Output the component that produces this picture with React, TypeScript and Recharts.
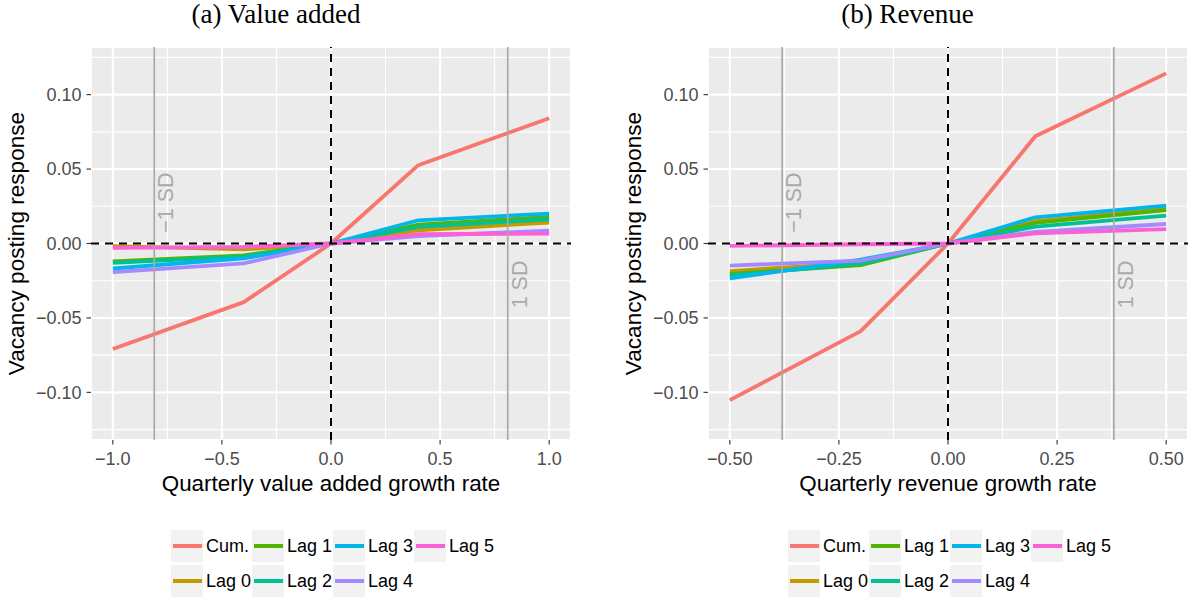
import React from 'react';
import { LineChart, Line, XAxis, YAxis, CartesianGrid, ReferenceLine, ReferenceDot, Legend } from 'recharts';

const seriesNames = ['Cum.', 'Lag 0', 'Lag 1', 'Lag 2', 'Lag 3', 'Lag 4', 'Lag 5'];
const seriesColors = ['#F8766D', '#C49A00', '#53B400', '#00C094', '#00B6EB', '#A58AFF', '#FB61D7'];

// Shared y axis
const yDomain = [-0.132, 0.132];
const yTicks = [-0.1, -0.05, 0, 0.05, 0.1];
const yMinor = [-0.125, -0.075, -0.025, 0.025, 0.075, 0.125];
const sdLabelY = [0.0275, -0.0275];

// Panel (a) Value added
const vaX = [-1, -0.4, 0, 0.4, 1];
const vaCum = [-0.0709, -0.0394, 0, 0.0526, 0.0841];
const vaLag0 = [-0.0018, -0.004, 0, 0.0089, 0.0141];
const vaLag1 = [-0.012, -0.008, 0, 0.0127, 0.0179];
const vaLag2 = [-0.013, -0.0088, 0, 0.0111, 0.0163];
const vaLag3 = [-0.0168, -0.010, 0, 0.0156, 0.0201];
const vaLag4 = [-0.0192, -0.0134, 0, 0.0049, 0.0087];
const vaLag5 = [-0.003, -0.0023, 0, 0.0062, 0.0067];
const vaXTicks = [-1, -0.5, 0, 0.5, 1];
const vaXMinor = [-0.75, -0.25, 0.25, 0.75];
const vaXDomain = [-1.1, 1.1];
const vaSD = 0.81;

// Panel (b) Revenue
const rvX = [-0.5, -0.2, 0, 0.2, 0.5];
const rvCum = [-0.1052, -0.0589, 0, 0.072, 0.1143];
const rvLag0 = [-0.0185, -0.013, 0, 0.015, 0.0235];
const rvLag1 = [-0.0205, -0.0145, 0, 0.0138, 0.0225];
const rvLag2 = [-0.0215, -0.0135, 0, 0.0113, 0.0187];
const rvLag3 = [-0.0235, -0.0108, 0, 0.0176, 0.0255];
const rvLag4 = [-0.0148, -0.0115, 0, 0.0078, 0.0131];
const rvLag5 = [-0.0016, -0.0005, 0, 0.0068, 0.0097];
const rvXTicks = [-0.5, -0.25, 0, 0.25, 0.5];
const rvXMinor = [-0.375, -0.125, 0.125, 0.375];
const rvXDomain = [-0.55, 0.55];
const rvSD = 0.38;

const fmt = (d: number) => (v: number) => (v < -1e-9 ? '\u2212' : '') + Math.abs(v).toFixed(d);

const renderLegend = () => {
  const rows = 2;
  return (
    <div style={{ display: 'grid', gridTemplateColumns: 'repeat(4, 81px)', gridTemplateRows: 'repeat(2, 32px)', rowGap: 3, gridAutoFlow: 'column' }}>
      {seriesNames.map((n, k) => (
        <div key={n} style={{ display: 'flex', alignItems: 'center', gridRow: (k % rows) + 1, gridColumn: Math.floor(k / rows) + 1 }}>
          <div style={{ width: 32, height: 32, background: '#F2F2F2', display: 'flex', alignItems: 'center', justifyContent: 'center', flex: '0 0 32px' }}>
            <div style={{ width: 29, height: 4, background: seriesColors[k] }} />
          </div>
          <span style={{ marginLeft: 3, fontSize: 18, color: '#000', whiteSpace: 'nowrap', lineHeight: '32px' }}>{n}</span>
        </div>
      ))}
    </div>
  );
};

type PanelProps = {
  xs: number[];
  series: number[][];
  xDomain: number[];
  xTicks: number[];
  xMinor: number[];
  digits: number;
  sd: number;
  xTitle: string;
  left: number;
  width: number;
  marginRight: number;
};

const sdLabel = (text: string) => (props: any) => {
  const vb = props.viewBox || {};
  const cx = (vb.x ?? 0) + (vb.width ?? 0) / 2;
  const cy = (vb.y ?? 0) + (vb.height ?? 0) / 2;
  const bx = cx + 19;
  return (
    <text x={bx} y={cy} transform={`rotate(-90 ${bx} ${cy})`} textAnchor="middle" fontSize={21.5} fill="#A9A9A9">
      {text}
    </text>
  );
};

const Panel = ({ xs, series, xDomain, xTicks, xMinor, digits, sd, xTitle, left, width, marginRight }: PanelProps) => {
  const data = xs.map((x, i) => {
    const row: any = { x };
    seriesNames.forEach((n, k) => { row[n] = series[k][i]; });
    return row;
  });
  return (
    <div style={{ position: 'absolute', left, top: 0 }}>
      <LineChart width={width} height={599} data={data} margin={{ top: 47, right: marginRight, bottom: 99, left: 0 }}>
        <CartesianGrid fill="#EBEBEB" fillOpacity={1} stroke="#FFFFFF" strokeWidth={2.1} />
        {xMinor.map((v) => <ReferenceLine key={'mx' + v} x={v} stroke="#FFFFFF" strokeWidth={1.1} />)}
        {yMinor.map((v) => <ReferenceLine key={'my' + v} y={v} stroke="#FFFFFF" strokeWidth={1.1} />)}
        <XAxis
          type="number"
          dataKey="x"
          domain={xDomain}
          ticks={xTicks}
          interval={0}
          allowDataOverflow
          height={60}
          tickSize={4.5}
          tickMargin={8}
          axisLine={false}
          tickLine={{ stroke: '#333333', strokeWidth: 1.1 }}
          tick={{ fill: '#4D4D4D', fontSize: 18 }}
          tickFormatter={fmt(digits)}
          label={{
            value: xTitle,
            content: (p: any) => (
              <text x={p.viewBox.x + p.viewBox.width / 2} y={p.viewBox.y + 51} textAnchor="middle" fontSize={22.4} fill="#000">
                {xTitle}
              </text>
            ),
          }}
        />
        <YAxis
          type="number"
          domain={yDomain}
          ticks={yTicks}
          interval={0}
          allowDataOverflow
          width={91}
          tickSize={4.5}
          tickMargin={5}
          axisLine={false}
          tickLine={{ stroke: '#333333', strokeWidth: 1.1 }}
          tick={{ fill: '#4D4D4D', fontSize: 18 }}
          tickFormatter={fmt(2)}
          label={{
            value: 'Vacancy posting response',
            content: (p: any) => {
              const x = p.viewBox.x + 24;
              const y = p.viewBox.y + p.viewBox.height / 2;
              return (
                <text x={x} y={y} transform={`rotate(-90 ${x} ${y})`} textAnchor="middle" fontSize={22.6} fill="#000">
                  Vacancy posting response
                </text>
              );
            },
          }}
        />
        {seriesNames.map((n, k) => (
          <Line
            key={n}
            type="linear"
            dataKey={n}
            stroke={seriesColors[k]}
            strokeWidth={3.8}
            strokeLinejoin="round"
            strokeLinecap="butt"
            dot={false}
            activeDot={false}
            isAnimationActive={false}
          />
        ))}
        <ReferenceLine x={-sd} stroke="#A9A9A9" strokeWidth={1.7} />
        <ReferenceLine x={sd} stroke="#A9A9A9" strokeWidth={1.7} />
        <ReferenceDot x={-sd} y={sdLabelY[0]} r={1} fill="none" stroke="none" label={sdLabel('\u22121 SD')} />
        <ReferenceDot x={sd} y={sdLabelY[1]} r={1} fill="none" stroke="none" label={sdLabel('1 SD')} />
        <ReferenceLine y={0} stroke="#000000" strokeWidth={2} strokeDasharray="8 6" />
        <ReferenceLine x={0} stroke="#000000" strokeWidth={2} strokeDasharray="8 6" />
        <Legend
          verticalAlign="middle"
          align="center"
          layout="horizontal"
          wrapperStyle={{ left: 171, top: 530, width: 340, height: 67 }}
          content={renderLegend}
        />
      </LineChart>
    </div>
  );
};

export default function App() {
  return (
    <div style={{ position: 'absolute', left: 0, top: 0, width: 1194, height: 599, background: '#FFFFFF', fontFamily: '"Liberation Sans", Arial, sans-serif', overflow: 'hidden' }}>
      <div style={{ position: 'absolute', left: 126, top: 1, width: 300, textAlign: 'center', fontFamily: '"Liberation Serif", serif', fontSize: 27, lineHeight: '27px', color: '#000' }}>
        (a) Value added
      </div>
      <div style={{ position: 'absolute', left: 757.5, top: 1, width: 300, textAlign: 'center', fontFamily: '"Liberation Serif", serif', fontSize: 27, lineHeight: '27px', color: '#000' }}>
        (b) Revenue
      </div>
      <Panel
        xs={vaX}
        series={[vaCum, vaLag0, vaLag1, vaLag2, vaLag3, vaLag4, vaLag5]}
        xDomain={vaXDomain}
        xTicks={vaXTicks}
        xMinor={vaXMinor}
        digits={1}
        sd={vaSD}
        xTitle="Quarterly value added growth rate"
        left={0}
        width={597}
        marginRight={26}
      />
      <Panel
        xs={rvX}
        series={[rvCum, rvLag0, rvLag1, rvLag2, rvLag3, rvLag4, rvLag5]}
        xDomain={rvXDomain}
        xTicks={rvXTicks}
        xMinor={rvXMinor}
        digits={2}
        sd={rvSD}
        xTitle="Quarterly revenue growth rate"
        left={617}
        width={577}
        marginRight={6}
      />
    </div>
  );
}
